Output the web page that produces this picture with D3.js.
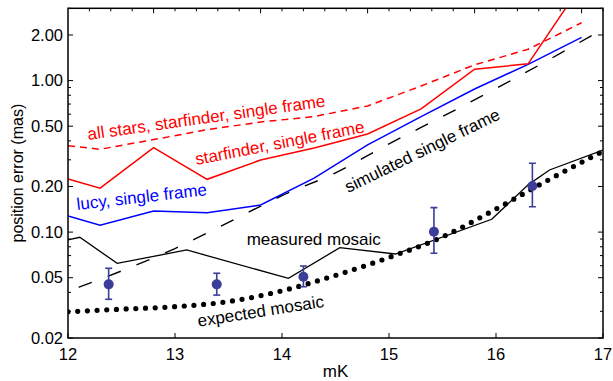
<!DOCTYPE html>
<html>
<head>
<meta charset="utf-8">
<script src="https://cdn.jsdelivr.net/npm/d3@7"></script>
<style>
  body { margin: 0; background: #fff; }
  text { font-family: "Liberation Sans", Arial, sans-serif; }
</style>
</head>
<body>
<div id="chart"></div>
<script>
// magnitudes where the single-frame curves were measured
const frameMags = [12, 12.3, 12.8, 13.3, 13.8, 14.3, 14.8, 15.3, 15.8, 16.3, 16.8];
const allStarsErr = [0.372, 0.352, 0.408, 0.474, 0.533, 0.579, 0.68, 0.921, 1.27, 1.61, 2.41];
const starfinderErr = [0.224, 0.195, 0.361, 0.223, 0.299, 0.359, 0.444, 0.65, 1.19, 1.29, 4.3];
const lucyErr = [0.128, 0.111, 0.138, 0.134, 0.151, 0.227, 0.376, 0.578, 0.88, 1.28, 1.93];

// simulated single frame (dashed black)
const simMags = [12.1, 12.5, 13, 13.5, 14, 14.5, 15, 15.5, 16, 16.5, 17];
const simErr = [0.0432, 0.0554, 0.0779, 0.116, 0.174, 0.246, 0.382, 0.579, 0.887, 1.38, 2.19];

// measured mosaic (solid black)
const mosaicMags = [12, 12.11, 12.46, 13.11, 14.06, 14.54, 15.06, 15.96, 16.3, 16.5, 17];
const mosaicErr = [0.0887, 0.0924, 0.0622, 0.0762, 0.0495, 0.0789, 0.0717, 0.1215, 0.205, 0.257, 0.348];

// expected mosaic (dotted)
const expMags = [12, 12.5, 13, 13.5, 14, 14.5, 15, 15.5, 16, 16.5, 17];
const expErr = [0.0298, 0.031, 0.0322, 0.0348, 0.041, 0.0518, 0.068, 0.093, 0.142, 0.223, 0.342];

// points with error bars
const ptMags = [12.38, 13.39, 14.2, 15.42, 16.34];
const ptErr = [0.0452, 0.0452, 0.0508, 0.1006, 0.2015];
const ptLow = [0.036, 0.0384, 0.0436, 0.0725, 0.147];
const ptHigh = [0.0577, 0.0535, 0.0597, 0.145, 0.285];

const yTickVals = [0.02, 0.05, 0.1, 0.2, 0.5, 1, 2];
const yTickLabels = ["0.02", "0.05", "0.10", "0.20", "0.50", "1.00", "2.00"];
const xTickVals = [12, 13, 14, 15, 16, 17];
const topMajor = [12.8, 13.8, 14.8, 15.8, 16.8];

const W = 613, H = 381;
const x = d3.scaleLinear().domain([12, 17]).range([68, 603]);
const y = d3.scaleLog().domain([0.02, 3]).range([338, 8.3]);

const svg = d3.select('#chart').append('svg')
    .attr('width', W).attr('height', H);

const plot = svg.append('g');
plot.append('clipPath').attr('id', 'clip')
    .append('rect')
    .attr('x', x(12)).attr('y', y(3))
    .attr('width', x(17) - x(12)).attr('height', y(0.02) - y(3));

const lines = plot.append('g').attr('clip-path', 'url(#clip)');

const line = d3.line().x(d => x(d[0])).y(d => y(d[1]));
const smooth = d3.line().x(d => x(d[0])).y(d => y(d[1])).curve(d3.curveMonotoneX);
const zip = (a, b) => a.map((v, i) => [v, b[i]]);

// expected mosaic, big round dots
lines.append('path')
    .attr('d', smooth(zip(expMags, expErr)))
    .attr('fill', 'none').attr('stroke', '#000')
    .attr('stroke-width', 5.2).attr('stroke-linecap', 'round')
    .attr('stroke-dasharray', '0 9.7');

// simulated single frame
lines.append('path')
    .attr('d', smooth(zip(simMags, simErr)))
    .attr('fill', 'none').attr('stroke', '#000')
    .attr('stroke-width', 1.4)
    .attr('stroke-dasharray', '14 17');

// measured mosaic
lines.append('path')
    .attr('d', line(zip(mosaicMags, mosaicErr)))
    .attr('fill', 'none').attr('stroke', '#000')
    .attr('stroke-width', 1.3);

lines.append('path')
    .attr('d', line(zip(frameMags, lucyErr)))
    .attr('fill', 'none').attr('stroke', '#0000ff')
    .attr('stroke-width', 1.5);

lines.append('path')
    .attr('d', line(zip(frameMags, starfinderErr)))
    .attr('fill', 'none').attr('stroke', '#ff0000')
    .attr('stroke-width', 1.5);

lines.append('path')
    .attr('d', line(zip(frameMags, allStarsErr)))
    .attr('fill', 'none').attr('stroke', '#ff0000')
    .attr('stroke-width', 1.5)
    .attr('stroke-dasharray', '7 5');

// error bar points
const ptColor = '#3c3c99';
const pts = lines.selectAll('g.pt')
    .data(ptMags.map((m, i) => ({ m, v: ptErr[i], lo: ptLow[i], hi: ptHigh[i] })))
    .enter().append('g').attr('class', 'pt');
pts.append('line')
    .attr('x1', d => x(d.m)).attr('x2', d => x(d.m))
    .attr('y1', d => y(d.lo)).attr('y2', d => y(d.hi))
    .attr('stroke', ptColor).attr('stroke-width', 1.6);
pts.append('line')
    .attr('x1', d => x(d.m) - 3.5).attr('x2', d => x(d.m) + 3.5)
    .attr('y1', d => y(d.hi)).attr('y2', d => y(d.hi))
    .attr('stroke', ptColor).attr('stroke-width', 1.6);
pts.append('line')
    .attr('x1', d => x(d.m) - 3.5).attr('x2', d => x(d.m) + 3.5)
    .attr('y1', d => y(d.lo)).attr('y2', d => y(d.lo))
    .attr('stroke', ptColor).attr('stroke-width', 1.6);
pts.append('circle')
    .attr('cx', d => x(d.m)).attr('cy', d => y(d.v))
    .attr('r', 5).attr('fill', ptColor);

// frame and ticks
const axes = svg.append('g');
axes.append('rect')
    .attr('x', x(12)).attr('y', y(3))
    .attr('width', x(17) - x(12)).attr('height', y(0.02) - y(3))
    .attr('fill', 'none').attr('stroke', '#000').attr('stroke-width', 1.5);

// log minor ticks
const minorY = [];
[0.01, 0.1, 1].forEach(dec => {
    for (let k = 2; k <= 9; k++) {
        const v = +(dec * k).toPrecision(3);
        if (v >= 0.02 && v <= 3 && !yTickVals.includes(v)) minorY.push(v);
    }
});

[x(12), x(17)].forEach((x0, side) => {
    const dir = side === 0 ? 1 : -1;
    axes.selectAll(null).data(yTickVals).enter().append('line')
        .attr('x1', x0).attr('x2', x0 + dir * 5)
        .attr('y1', d => y(d)).attr('y2', d => y(d))
        .attr('stroke', '#000').attr('stroke-width', 1);
    axes.selectAll(null).data(minorY).enter().append('line')
        .attr('x1', x0).attr('x2', x0 + dir * 3)
        .attr('y1', d => y(d)).attr('y2', d => y(d))
        .attr('stroke', '#000').attr('stroke-width', 1);
});

axes.selectAll(null).data(yTickVals).enter().append('text')
    .attr('x', x(12) - 5).attr('y', d => y(d))
    .attr('dy', '0.35em').attr('text-anchor', 'end')
    .attr('font-size', 16.5).text((d, i) => yTickLabels[i]);

// bottom axis
axes.selectAll(null).data(xTickVals).enter().append('line')
    .attr('x1', d => x(d)).attr('x2', d => x(d))
    .attr('y1', y(0.02)).attr('y2', y(0.02) - 5)
    .attr('stroke', '#000').attr('stroke-width', 1);
axes.selectAll(null).data(xTickVals).enter().append('text')
    .attr('x', d => x(d)).attr('y', y(0.02) + 16)
    .attr('dy', '0.35em').attr('text-anchor', 'middle')
    .attr('font-size', 16.5).text(d => d);

// top axis: minor every 0.2, longer marks shifted
const topMinor = d3.range(12.2, 17, 0.2).map(v => +v.toFixed(1));
axes.selectAll(null).data(topMinor).enter().append('line')
    .attr('x1', d => x(d)).attr('x2', d => x(d))
    .attr('y1', y(3)).attr('y2', d => y(3) + (topMajor.includes(d) ? 5 : 3))
    .attr('stroke', '#000').attr('stroke-width', 1);

svg.append('text')
    .attr('x', (x(12) + x(17)) / 2).attr('y', 377)
    .attr('text-anchor', 'middle').attr('font-size', 17).text('mK');
svg.append('text')
    .attr('transform', `translate(23, ${ (y(3) + y(0.02)) / 2 }) rotate(-90)`)
    .attr('text-anchor', 'middle').attr('font-size', 16).text('position error (mas)');

// curve labels, anchored in data units
const labels = [
    { t: 'all stars, starfinder, single frame', m: 12.19, v: 0.406, a: -8, c: '#ff0000' },
    { t: 'starfinder, single frame', m: 13.2, v: 0.277, a: -11, c: '#ff0000' },
    { t: 'lucy, single frame', m: 12.087, v: 0.14, a: -6.5, c: '#0000ff' },
    { t: 'simulated single frame', m: 14.62, v: 0.181, a: -26, c: '#000' },
    { t: 'measured mosaic', m: 13.67, v: 0.0822, a: 0, c: '#000' },
    { t: 'expected mosaic', m: 13.22, v: 0.0237, a: -9, c: '#000' }
];
svg.selectAll('text.lbl').data(labels).enter().append('text')
    .attr('class', 'lbl')
    .attr('transform', d => `translate(${ x(d.m) }, ${ y(d.v) }) rotate(${ d.a })`)
    .attr('fill', d => d.c).attr('font-size', 17)
    .text(d => d.t);
</script>
</body>
</html>
